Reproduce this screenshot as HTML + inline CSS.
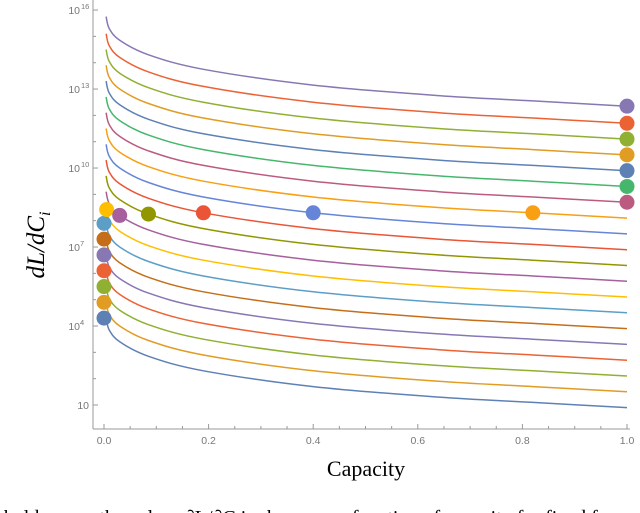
<!DOCTYPE html>
<html><head><meta charset="utf-8"><style>
body{margin:0;background:#fff;width:640px;height:513px;overflow:hidden;position:relative}
svg{position:absolute;left:0;top:0}
</style></head><body>
<svg id="chart" width="640" height="513" viewBox="0 0 640 513" font-family="Liberation Sans, sans-serif"></svg>
<script>
const xSamples=[0.004,0.01,0.03,0.085,0.19,0.4,0.64,0.82,1.0];
const baseLog=[4.3,3.85,3.4,2.85,2.3,1.7,1.3,1.1,0.9];
const curveOffsets=[0,0.6,1.2,1.8,2.4,3.0,3.6,4.2,4.8,5.4,6.0,6.6,7.2,7.8,8.4,9.0,9.6,10.2,10.8,11.45];
const colors=["#5E81B5","#E19C24","#8FB032","#EB6235","#8778B3","#C56E1A","#5D9EC7","#FFBF00","#A5609D","#929600","#E95536","#6685D9","#F89F13","#BC5B80","#47B66D","#5E81B5","#E19C24","#8FB032","#EB6235","#8778B3"];
const dotX=[0,0,0,0,0,0,0,0.005,0.03,0.085,0.19,0.4,0.82,1,1,1,1,1,1,1];
const xTicks=[0,0.2,0.4,0.6,0.8,1.0];
const xTickLabels=["0.0","0.2","0.4","0.6","0.8","1.0"];
const yTicks=[16,13,10,7,4,1];
const svg=document.getElementById('chart');const NS='http://www.w3.org/2000/svg';
const X=v=>104+v*523; const Y=l=>405-(l-1)*26.33;
function mk(t,a,p){const e=document.createElementNS(NS,t);for(const k in a)e.setAttribute(k,a[k]);(p||svg).appendChild(e);return e;}
function interp(x){for(let i=0;i<xSamples.length-1;i++){if(x<=xSamples[i+1]){const t=(x-xSamples[i])/(xSamples[i+1]-xSamples[i]);return baseLog[i]+t*(baseLog[i+1]-baseLog[i]);}}return baseLog[baseLog.length-1];}
function spline(pts){let d='M'+pts[0][0].toFixed(1)+','+pts[0][1].toFixed(1);for(let i=0;i<pts.length-1;i++){const p0=pts[Math.max(0,i-1)],p1=pts[i],p2=pts[i+1],p3=pts[Math.min(pts.length-1,i+2)];const c1=[p1[0]+(p2[0]-p0[0])/6,p1[1]+(p2[1]-p0[1])/6],c2=[p2[0]-(p3[0]-p1[0])/6,p2[1]-(p3[1]-p1[1])/6];d+=' C'+c1.map(v=>v.toFixed(1))+' '+c2.map(v=>v.toFixed(1))+' '+p2[0].toFixed(1)+','+p2[1].toFixed(1);}return d;}
const ax=mk('g',{});
mk('line',{x1:93,y1:0,x2:93,y2:429,stroke:'#999','stroke-width':1},ax);
mk('line',{x1:93,y1:429,x2:630,y2:429,stroke:'#999','stroke-width':1},ax);
for(let v=0;v<=1.001;v+=0.05){const major=Math.abs(v*5-Math.round(v*5))<1e-6;mk('line',{x1:X(v),y1:429,x2:X(v),y2:major?424:426,stroke:'#999'},ax);}
xTicks.forEach((v,i)=>{const t=mk('text',{x:X(v),y:444,'font-size':10.5,fill:'#777','text-anchor':'middle'},ax);t.textContent=xTickLabels[i];});
for(let l=1;l<=16;l++){const major=yTicks.includes(l);mk('line',{x1:93,y1:Y(l),x2:major?98:96,y2:Y(l),stroke:'#999'},ax);}
yTicks.forEach(l=>{const t=mk('text',{x:l===1?89:80,y:Y(l)+4,'font-size':10.5,fill:'#777','text-anchor':'end'},ax);
 if(l===1){t.textContent='10';}else{t.textContent='10';const s=mk('tspan',{'font-size':7.5,dy:-5,x:l>=10?81:80,'text-anchor':'start'},t);s.textContent=String(l);}});
const cg=mk('g',{});
curveOffsets.forEach((o,i)=>{const pts=xSamples.map((x,j)=>[X(x),Y(baseLog[j]+o)]);const p=mk('path',{d:spline(pts),fill:'none',stroke:colors[i],'stroke-width':1.5},cg);});
const dg=mk('g',{});
curveOffsets.forEach((o,i)=>{const x=dotX[i];const xx=Math.max(x,xSamples[0]);const c=mk('circle',{cx:X(x),cy:Y(interp(xx)+o),r:7.5,fill:colors[i]},dg);});
let t=mk('text',{x:0,y:0,'font-size':25,'font-style':'italic','font-family':'Liberation Serif, serif','text-anchor':'middle',transform:'translate(44,245) rotate(-90)'});t.textContent='dL/dC';const s=mk('tspan',{'font-size':16,dy:6},t);s.textContent='i';

t=mk('text',{x:366,y:476,'font-size':22,'font-family':'Liberation Serif, serif','text-anchor':'middle'});t.textContent='Capacity';
t=mk('text',{x:-4,y:524,'font-size':20,'font-family':'Liberation Serif, serif'});t.textContent='shold across the values ∂L/∂C is shown as a function of capacity for fixed freq';
</script>
</body></html>
